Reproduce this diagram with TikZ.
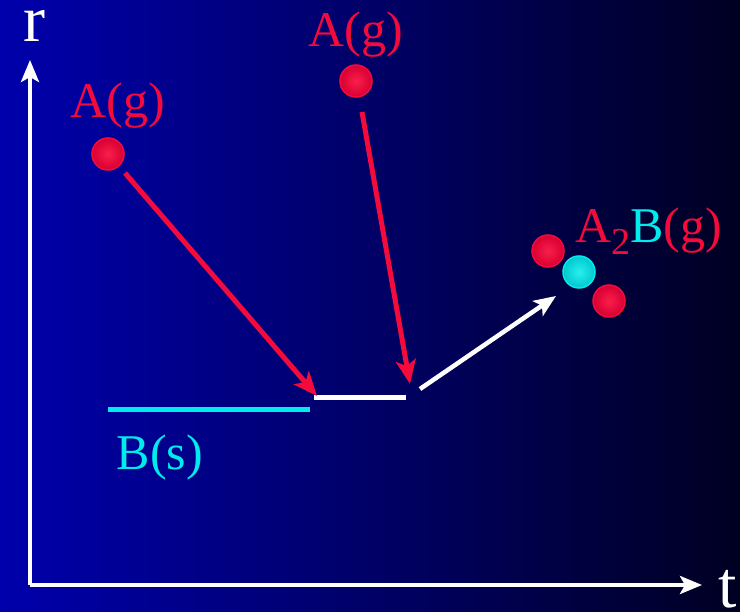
\documentclass[tikz,border=0pt]{standalone}
\usepackage{fontspec}
\setmainfont{Liberation Serif}
\usetikzlibrary{arrows.meta}
\definecolor{bgl}{RGB}{0,0,172}
\definecolor{bgr}{RGB}{0,0,34}
\definecolor{molred}{RGB}{245,10,60}
\definecolor{molredl}{RGB}{250,30,75}
\definecolor{molredd}{RGB}{215,0,50}
\definecolor{molcyan}{RGB}{0,235,235}
\definecolor{molcyanl}{RGB}{40,240,240}
\definecolor{molcyand}{RGB}{0,200,205}
\tikzset{
  lbl/.style={anchor=base, inner sep=0pt, font=\fontsize{50}{60}\selectfont},
  axlbl/.style={anchor=base, inner sep=0pt, text=white, font=\fontsize{66}{70}\selectfont},
  redball/.style={circle, minimum size=32pt, inner sep=0pt, draw=molred, line width=1.5pt, inner color=molredl, outer color=molredd},
  cyanball/.style={circle, minimum size=32pt, inner sep=0pt, draw=molcyan, line width=1.5pt, inner color=molcyanl, outer color=molcyand},
  axis/.style={white, line width=4pt, -{Stealth[length=22pt, width=18pt, inset=5pt]}},
  redarr/.style={molred, line width=5pt, -{Stealth[length=24pt, width=20pt, inset=6pt]}},
  whitearr/.style={white, line width=4.5pt, -{Stealth[length=22pt, width=18pt, inset=5pt]}},
  seg/.style={line width=5pt},
}
\begin{document}
\begin{tikzpicture}[x=1pt, y=-1pt]
\shade[left color=bgl, right color=bgr] (0,0) rectangle (740,612);
\useasboundingbox (0,0) rectangle (740,612);
% axes
\coordinate (o) at (30,585);
\coordinate (ytip) at (30,60);
\coordinate (xtip) at (702,585);
\draw[axis] (o) -- (ytip);
\draw[axis] (o) -- (xtip);
\node[axlbl] (r) at (34,42) {r};
\node[axlbl] (t) at (728,608) {t};
% molecules
\node[lbl, text=molred] (ag1) at (118,118) {A(g)};
\node[redball] (b1) at (108,154) {};
\node[lbl, text=molred] (ag2) at (356,47) {A(g)};
\node[redball] (b2) at (356,81) {};
% surfaces
\coordinate (cs) at (108,410);
\coordinate (ce) at (310,410);
\draw[seg, molcyan] (cs) -- (ce);
\node[lbl, text=molcyan] (bs) at (160,470) {B(s)};
\coordinate (ws) at (314,398);
\coordinate (we) at (406,398);
\draw[seg, white] (ws) -- (we);
% arrows
\coordinate (a1s) at (125,173);
\coordinate (a1e) at (317,396);
\draw[redarr] (a1s) -- (a1e);
\coordinate (a2s) at (362,112);
\coordinate (a2e) at (410,384);
\draw[redarr] (a2s) -- (a2e);
\coordinate (a3s) at (420,389);
\coordinate (a3e) at (556,296);
\draw[whitearr] (a3s) -- (a3e);
% product
\node[redball] (p1) at (548,251) {};
\node[cyanball] (p2) at (579,272) {};
\node[redball] (p3) at (609,301) {};
\node[lbl, anchor=base west] (a2b) at (575,243) {\textcolor{molred}{A}\raisebox{-0.24em}{\fontsize{38}{44}\selectfont\textcolor{molred}{2}}\textcolor{molcyan}{B}\textcolor{molred}{(g)}};
\end{tikzpicture}
\end{document}
